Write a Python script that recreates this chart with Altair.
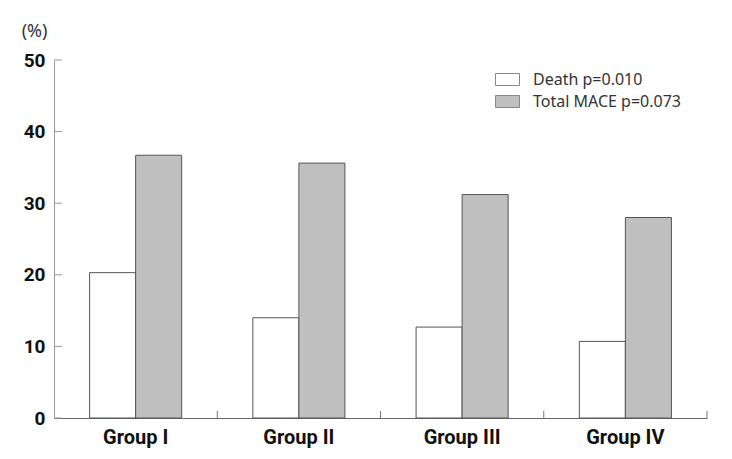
import altair as alt
import pandas as pd

groups = ["Group I", "Group II", "Group III", "Group IV"]
series = ["Death p=0.010", "Total MACE p=0.073"]
death = [20.3, 14.0, 12.7, 10.7]
mace = [36.7, 35.6, 31.2, 28.0]
y_ticks = [0, 10, 20, 30, 40, 50]
x_bounds = [1, 2, 3, 4]

rows = []
for g, d, m in zip(groups, death, mace):
    rows.append({"group": g, "series": series[0], "value": d})
    rows.append({"group": g, "series": series[1], "value": m})
df = pd.DataFrame(rows)

W, H = 653, 358

y_axis = alt.Axis(values=y_ticks, ticks=False, grid=False, domainColor="#999999",
                  labelFont="Roboto", labelFontWeight="bold", labelFontSize=19,
                  labelColor="#111111", labelPadding=9,
                  title="(%)", titleAngle=0, titleX=-20, titleY=-29,
                  titleAlign="center", titleBaseline="middle",
                  titleFont="Noto Sans", titleFontWeight="normal", titleFontSize=18,
                  titleColor="#333333")

bars = alt.Chart(df).mark_bar(stroke="#555555", strokeWidth=1).encode(
    x=alt.X("group:N", sort=groups,
            scale=alt.Scale(paddingInner=0.436, paddingOuter=0.218),
            axis=alt.Axis(title=None, labelAngle=0, ticks=False, domainColor="#666666",
                          labelFont="Roboto", labelFontWeight="bold", labelFontSize=20,
                          labelColor="#111111", labelPadding=9)),
    xOffset=alt.XOffset("series:N", sort=series),
    y=alt.Y("value:Q", scale=alt.Scale(domain=[0, 50]), axis=y_axis),
    fill=alt.Fill("series:N", sort=series,
                  scale=alt.Scale(domain=series, range=["#ffffff", "#c0c0c0"]),
                  legend=alt.Legend(title=None, orient="none", legendX=441, legendY=7,
                                    symbolType="M-1,-0.5H1V0.5H-1Z", symbolSize=576,
                                    symbolStrokeColor="#888888", symbolStrokeWidth=1,
                                    labelFont="Noto Sans", labelFontSize=16,
                                    labelColor="#333333", labelOffset=13, rowPadding=1)),
)

ytick_df = pd.DataFrame({"value": y_ticks})
yticks = alt.Chart(ytick_df).mark_rule(color="#999999", strokeWidth=1).encode(
    y=alt.Y("value:Q"),
    x=alt.value(0),
    x2=alt.value(8),
)

xtick_df = pd.DataFrame({"b": x_bounds})
xticks = alt.Chart(xtick_df).mark_rule(color="#777777", strokeWidth=1).encode(
    x=alt.X("b:Q", scale=alt.Scale(domain=[0, 4]), axis=None),
    y=alt.value(H),
    y2=alt.value(H - 7),
)

chart = alt.layer(bars, yticks, xticks).resolve_scale(x="independent").properties(
    width=W, height=H,
    background="white",
    autosize=alt.AutoSizeParams(type="none"),
    padding={"left": 46, "top": 52, "right": 17, "bottom": 33},
).configure_view(strokeWidth=0, strokeOpacity=0)

chart.save("out.html", embed_options={"renderer": "svg", "actions": False})
